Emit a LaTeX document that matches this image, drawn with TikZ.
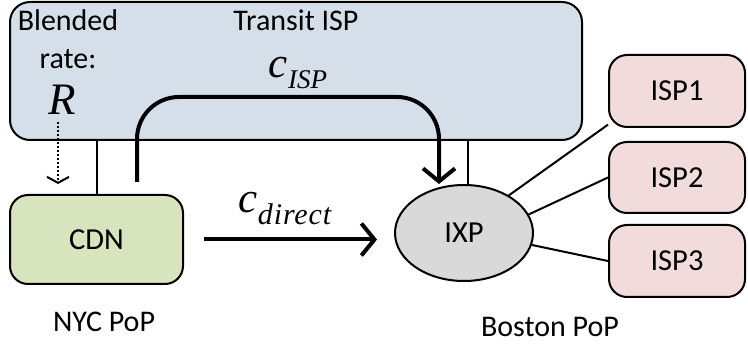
\documentclass[tikz,border=0pt]{standalone}
\usepackage{fontspec}
\setmainfont{Carlito}
\newfontfamily\tnr{Liberation Serif}
\usetikzlibrary{arrows.meta,shapes.geometric}
\definecolor{transitfill}{RGB}{213,223,234}
\definecolor{cdnfill}{RGB}{215,228,189}
\definecolor{ixpfill}{RGB}{217,217,217}
\definecolor{ispfill}{RGB}{242,220,219}
\begin{document}
\begin{tikzpicture}[x=1pt,y=-1pt,
  box/.style={draw, line width=2pt, rounded corners=18pt, inner sep=0pt, font=\fontsize{30.5}{34}\selectfont},
  lbl/.style={font=\fontsize{30}{34}\selectfont, anchor=base, inner sep=0pt},
  conn/.style={line width=2pt},
  bigarrow/.style={line width=4pt, -{Straight Barb[length=13pt,width=32pt]}},
  dotarrow/.style={line width=2pt, dotted, -{Straight Barb[length=6pt,width=22pt]}}]
\useasboundingbox (0,0) rectangle (748,347);
% Transit ISP box
\node[box, fill=transitfill, rounded corners=20pt, minimum width=572pt, minimum height=138pt] (transit) at (296,71) {};
% other nodes
\node[box, fill=cdnfill, minimum width=173pt, minimum height=89pt] (cdn) at (96.5,239.5) {CDN};
\node[draw, line width=2pt, ellipse, fill=ixpfill, minimum width=138pt, minimum height=96pt, inner sep=0pt, font=\fontsize{30.5}{34}\selectfont] (ixp) at (464,233) {IXP};
\node[box, fill=ispfill, minimum width=136pt, minimum height=72pt] (isp1) at (677,91) {ISP1};
\node[box, fill=ispfill, minimum width=136pt, minimum height=71pt] (isp2) at (677,177.5) {ISP2};
\node[box, fill=ispfill, minimum width=136pt, minimum height=72pt] (isp3) at (677,261) {ISP3};
% labels
\node[lbl] (blended) at (68,31) {Blended};
\node[lbl] (rate) at (68,69) {rate:};
\node[lbl, font=\tnr\itshape\fontsize{45}{50}\selectfont] (R) at (62,115) {R};
\node[lbl] (transitlbl) at (296,31) {Transit ISP};
\node[lbl] (cisp) at (298,78) {{\tnr\itshape\fontsize{43}{44}\selectfont c}{\tnr\itshape\fontsize{27}{30}\selectfont\raisebox{-11pt}{ISP}}};
\node[lbl] (cdirect) at (285,213) {{\tnr\itshape\fontsize{43}{44}\selectfont c}{\tnr\itshape\fontsize{30}{30}\selectfont\raisebox{-12pt}{\addfontfeature{LetterSpace=3}direct}}};
\node[lbl] (nyc) at (104,332) {NYC PoP};
\node[lbl] (boston) at (550,337) {Boston PoP};
% connectors
\draw[conn] (cdn.north) -- (cdn.north |- transit.south);
\draw[conn] ([xshift=4pt]ixp.north) -- ([xshift=4pt]ixp.north |- transit.south);
\draw[conn] (ixp.40) -- (isp1.206);
\draw[conn] (ixp.16) -- (isp2.west);
\draw[conn] (ixp.-10) -- (isp3.west);
\coordinate (ispstart) at (137,182);
\coordinate (ispend) at (439,184);
\draw[bigarrow, rounded corners=42pt] (ispstart) -- (137,97) -- (439,97) -- (ispend);
\draw[bigarrow, shorten <=20pt, shorten >=17pt] (cdn.east) -- (cdn.east -| ixp.west);
\coordinate (dotstart) at (58,122);
\coordinate (dotend) at (58,184);
\draw[dotarrow] (dotstart) -- (dotend);
\end{tikzpicture}
\end{document}
